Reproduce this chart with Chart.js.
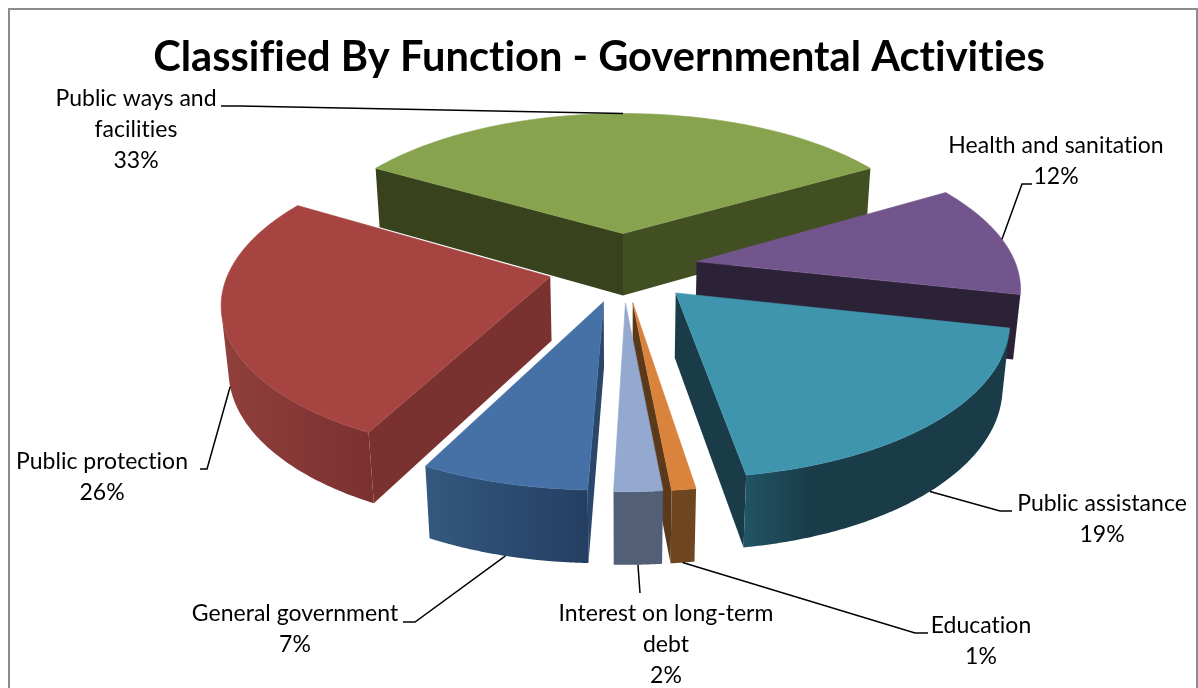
<!DOCTYPE html>
<html>
<head>
<meta charset="utf-8">
<title>Classified By Function - Governmental Activities</title>
<script src="https://cdn.jsdelivr.net/npm/chart.js@4"></script>
<style>
    html, body { margin: 0; padding: 0; background: #fff; overflow: hidden; }
    #frame { position: absolute; left: 8px; top: 8px; width: 1186px; height: 700px; border: 2px solid #8c8c8c; }
    #funds { position: absolute; left: 0; top: 0; }
</style>
</head>
<body>
<div id="frame"></div>
<canvas id="funds" width="1198" height="688"></canvas>
<script>
// Share of spending per function, clockwise from the purple slice
const categories = ['Health and sanitation', 'Public assistance', 'Education', 'Interest on long-term debt', 'General government', 'Public protection', 'Public ways and facilities'];
const shares = [12, 19, 1, 2, 7, 26, 33];

// Label text split the way it wraps on the chart
const labelLines = [
    ['Health and sanitation'],
    ['Public assistance'],
    ['Education'],
    ['Interest on long-term', 'debt'],
    ['General government'],
    ['Public protection'],
    ['Public ways and', 'facilities']
];

// Face colours
const topColors = ['#72558D', '#4095AE', '#D9833D', '#93A9CF', '#4571A6', '#A64442', '#87A34D'];
const startWallColors = ['#2C2238', '#1A3C49', '#6F4420', '#525F76', '#2A4668', '#7A3230', '#38431E'];
const endWallColors = ['#2C2238', '#1A3C49', '#5A3A1A', '#525F76', '#2A4668', '#7A3230', '#414F23'];
const sideLeftColors = ['#3A2C4C', '#215464', '#704520', '#525F76', '#34587F', '#913F3B', '#38431E'];
const sideRightColors = ['#2C2238', '#1A3B48', '#6F4420', '#525F76', '#253F62', '#7A3230', '#414F23'];
// Where along the outer wall the shading reaches its right colour
const sideFadeEnds = [1, 0.25, 1, 1, 1, 1, 1];

// Label centre and first line height, then the bend of the leader line
const labelPlaces = [
    { x: 1056, y: 146, elbow: [[1032, 184], [1022, 184]], wall: false },
    { x: 1102, y: 504, elbow: [[1012, 511], [1000, 511]], wall: true },
    { x: 981, y: 626, elbow: [[928, 633], [915, 633]], wall: true },
    { x: 666, y: 614, elbow: [[640, 593]], wall: true },
    { x: 295, y: 614, elbow: [[403, 622], [415, 622]], wall: true },
    { x: 102, y: 462, elbow: [[200, 469], [207, 469]], wall: true },
    { x: 136, y: 99, elbow: [[221, 106], [240, 106]], wall: false }
];

const labelFont = '23px Lato';
const lineGap = 31;

// Camera over the pie
const view = { x: 623, y: 267, tilt: 27.5 * Math.PI / 180, dist: 1860, depth: 73 };

function project(wx, wy, wz) {
    const w = view.dist - (wy * Math.cos(view.tilt) + wz * Math.sin(view.tilt));
    const s = view.dist / w;
    return {
        x: view.x + wx * s,
        y: view.y - (wz * Math.cos(view.tilt) - wy * Math.sin(view.tilt)) * s
    };
}

// World positions of one arc element, pushed out along its middle angle
function sliceShape(arc) {
    const mid = (arc.startAngle + arc.endAngle) / 2;
    const ox = Math.cos(mid) * arc.options.offset;
    const oy = Math.sin(mid) * arc.options.offset;
    return {
        mid, ox, oy,
        rim: (a) => [ox + Math.cos(a) * arc.outerRadius, oy + Math.sin(a) * arc.outerRadius]
    };
}

function faces(wx, wy, nx, ny) {
    const camY = view.dist * Math.cos(view.tilt);
    return (0 - wx) * nx + (camY - wy) * ny > 0;
}

function fillPoly(ctx, pts, fill) {
    ctx.beginPath();
    pts.forEach((p, i) => i ? ctx.lineTo(p.x, p.y) : ctx.moveTo(p.x, p.y));
    ctx.closePath();
    ctx.fillStyle = fill;
    ctx.fill();
}

function drawSlice(ctx, arc, i) {
    const shape = sliceShape(arc);
    const { ox, oy, rim } = shape;
    const h = -view.depth;

    // Cut walls
    const walls = [
        { a: arc.startAngle, nx: Math.sin(arc.startAngle), ny: -Math.cos(arc.startAngle), color: startWallColors[i] },
        { a: arc.endAngle, nx: -Math.sin(arc.endAngle), ny: Math.cos(arc.endAngle), color: endWallColors[i] }
    ];
    walls.forEach(wall => {
        if (!faces(ox, oy, wall.nx, wall.ny)) return;
        const [rx, ry] = rim(wall.a);
        fillPoly(ctx, [project(ox, oy, 0), project(rx, ry, 0), project(rx, ry, h), project(ox, oy, h)], wall.color);
    });

    // Outer wall, only the run of the rim that looks at the camera
    const steps = 120;
    const run = [];
    for (let k = 0; k <= steps; k++) {
        const a = arc.startAngle + (arc.endAngle - arc.startAngle) * k / steps;
        const [rx, ry] = rim(a);
        if (faces(rx, ry, Math.cos(a), Math.sin(a))) run.push([rx, ry]);
    }
    if (run.length > 1) {
        const upper = run.map(p => project(p[0], p[1], 0));
        const lower = run.map(p => project(p[0], p[1], h)).reverse();
        const xs = upper.map(p => p.x);
        const grad = ctx.createLinearGradient(Math.min(...xs), 0, Math.max(...xs), 0);
        grad.addColorStop(0, sideLeftColors[i]);
        grad.addColorStop(sideFadeEnds[i], sideRightColors[i]);
        fillPoly(ctx, upper.concat(lower), grad);
    }

    // Top face, the thin stroke closes the seam against the walls
    const top = [project(ox, oy, 0)];
    for (let k = 0; k <= steps; k++) {
        const [rx, ry] = rim(arc.startAngle + (arc.endAngle - arc.startAngle) * k / steps);
        top.push(project(rx, ry, 0));
    }
    fillPoly(ctx, top, topColors[i]);
    ctx.strokeStyle = topColors[i];
    ctx.lineWidth = 0.6;
    ctx.stroke();
}

const pie3d = {
    id: 'pie3d',
    // Keeps Lato from joining "ti" and "fi" into ligatures, title included
    beforeDraw(chart) {
        chart.ctx.letterSpacing = '0.01px';
    },
    // Replaces the flat arcs, the elements still carry the angles and radius
    beforeDatasetsDraw(chart) {
        const ctx = chart.ctx;
        const arcs = chart.getDatasetMeta(0).data;
        const order = arcs.map((arc, i) => i).sort((a, b) => sliceShape(arcs[a]).oy - sliceShape(arcs[b]).oy);
        ctx.save();
        order.forEach(i => drawSlice(ctx, arcs[i], i));
        ctx.restore();
        return false;
    },
    afterDraw(chart) {
        const ctx = chart.ctx;
        const arcs = chart.getDatasetMeta(0).data;
        ctx.save();
        ctx.strokeStyle = '#000';
        ctx.lineWidth = 1.5;
        arcs.forEach((arc, i) => {
            const place = labelPlaces[i];
            const shape = sliceShape(arc);
            const [rx, ry] = shape.rim(shape.mid);
            const start = project(rx, ry, place.wall ? -view.depth : 0);
            ctx.beginPath();
            ctx.moveTo(start.x, start.y);
            [...place.elbow].reverse().forEach(p => ctx.lineTo(p[0], p[1]));
            ctx.stroke();

            const lines = labelLines[i].concat(shares[i] + '%');
            ctx.fillStyle = '#000';
            ctx.font = labelFont;
            ctx.textAlign = 'center';
            ctx.textBaseline = 'middle';
            lines.forEach((line, n) => ctx.fillText(line, place.x, place.y + n * lineGap));
        });
        ctx.restore();
    }
};

new Chart(document.getElementById('funds'), {
    type: 'pie',
    data: {
        labels: categories,
        datasets: [{
            data: shares,
            backgroundColor: topColors,
            offset: 75,
            borderWidth: 0
        }]
    },
    options: {
        responsive: false,
        animation: false,
        rotation: 59.4,
        radius: 320,
        plugins: {
            legend: { display: false },
            tooltip: { enabled: false },
            title: {
                display: true,
                text: 'Classified By Function - Governmental Activities',
                color: '#000',
                font: { family: 'Lato', size: 41.6, weight: 'bold' },
                padding: { top: 33, bottom: 0 }
            }
        }
    },
    plugins: [pie3d]
});
</script>
</body>
</html>
